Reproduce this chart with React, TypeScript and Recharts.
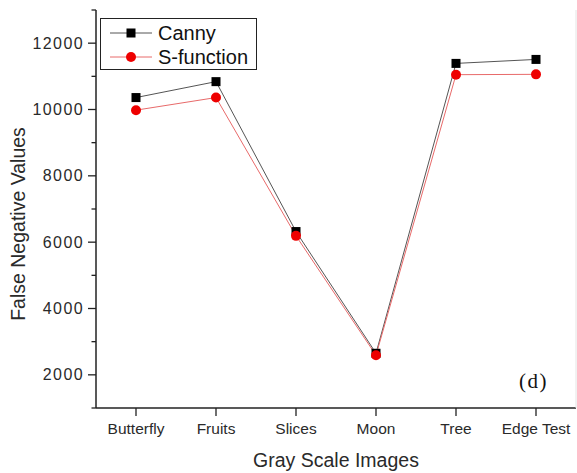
import React from 'react';
import { LineChart, Line, XAxis, YAxis, Legend, Label } from 'recharts';

// values
const images = ['Butterfly', 'Fruits', 'Slices', 'Moon', 'Tree', 'Edge Test'];
const canny = [10360, 10840, 6320, 2650, 11390, 11510];
const sFunction = [9980, 10360, 6190, 2590, 11050, 11060];

const yTicks = [1000, 2000, 3000, 4000, 5000, 6000, 7000, 8000, 9000, 10000, 11000, 12000, 13000];
const yLabels = [2000, 4000, 6000, 8000, 10000, 12000];
const bandEdges = [0, 1, 2, 3, 4, 5, 6];

const data = images.map((name, i) => ({
    name,
    canny: canny[i],
    sFunction: sFunction[i],
}));

const FONT = '"Liberation Sans", Arial, sans-serif';
const AXIS = '#222';
const TEXT = '#2a2a2a';

const YTick = (props: any) => {
    const { x, y, payload } = props;
    const major = yLabels.includes(payload.value);
    return (
        <g>
            <line x1={x - (major ? 8 : 4.5)} x2={x} y1={y} y2={y} stroke={AXIS} strokeWidth={1.3} />
            {major && (
                <text
                    x={x - 12}
                    y={y}
                    dy={5.5}
                    textAnchor="end"
                    fontSize={16}
                    letterSpacing={1.4}
                    fill={TEXT}
                    fontFamily={FONT}
                >
                    {payload.value}
                </text>
            )}
        </g>
    );
};

const YTitle = (props: any) => {
    const { viewBox } = props;
    const cx = viewBox.x + 18;
    const cy = viewBox.y + viewBox.height / 2 + 15;
    return (
        <text
            x={cx}
            y={cy}
            transform={'rotate(-90 ' + cx + ' ' + cy + ')'}
            textAnchor="middle"
            dominantBaseline="central"
            fontSize={19.5}
            fill={TEXT}
            fontFamily={FONT}
        >
            False Negative Values
        </text>
    );
};

const SquareDot = (props: any) => {
    const { cx, cy, index } = props;
    return <rect key={'sq-' + index} x={cx - 4.5} y={cy - 4.5} width={9} height={9} fill="#000" />;
};

const LegendBox = (props: any) => {
    const { payload } = props;
    return (
        <div
            style={{
                border: '1.3px solid #222',
                width: 157,
                height: 52,
                boxSizing: 'border-box',
                background: '#fff',
                paddingTop: 2,
            }}
        >
            {(payload ?? []).map((entry: any) => (
                <div key={entry.value} style={{ display: 'flex', alignItems: 'center', height: 24 }}>
                    <svg width={57} height={20} style={{ display: 'block' }}>
                        <line x1={9} x2={51} y1={10} y2={10} stroke={entry.color} strokeWidth={1} />
                        {entry.dataKey === 'canny' ? (
                            <rect x={25.5} y={5.5} width={9} height={9} fill="#000" />
                        ) : (
                            <circle cx={30} cy={10} r={5} fill="#ee0000" />
                        )}
                    </svg>
                    <span style={{ fontFamily: FONT, fontSize: 20, color: '#111', lineHeight: '20px' }}>
                        {entry.value}
                    </span>
                </div>
            ))}
        </div>
    );
};

export default function App() {
    return (
        <div style={{ position: 'fixed', left: 0, top: 0, width: 577, height: 473, background: '#fff' }}>
            <LineChart width={577} height={473} data={data} margin={{ top: 10, right: 0, bottom: 0, left: 0 }}>
                <XAxis
                    xAxisId="minor"
                    type="number"
                    domain={[0, 6]}
                    ticks={bandEdges}
                    height={0}
                    tick={false}
                    tickSize={4.5}
                    axisLine={false}
                    tickLine={{ stroke: AXIS, strokeWidth: 1.3 }}
                    interval={0}
                />
                <XAxis
                    dataKey="name"
                    height={65}
                    padding={{ left: 40, right: 40 }}
                    tickSize={8}
                    tickMargin={7}
                    interval={0}
                    axisLine={{ stroke: AXIS, strokeWidth: 1.5 }}
                    tickLine={{ stroke: AXIS, strokeWidth: 1.3 }}
                    tick={{ fontSize: 15.5, fill: TEXT, fontFamily: FONT }}
                >
                    <Label
                        value="Gray Scale Images"
                        position="insideBottom"
                        offset={6}
                        style={{ fontSize: 19.5, fill: TEXT, fontFamily: FONT }}
                    />
                </XAxis>
                <XAxis
                    xAxisId="top"
                    dataKey="name"
                    orientation="top"
                    height={0}
                    tick={false}
                    tickLine={false}
                    axisLine={{ stroke: '#aaa', strokeWidth: 1.3 }}
                />
                <YAxis
                    domain={[1000, 13000]}
                    ticks={yTicks}
                    interval={0}
                    width={96}
                    tickSize={0}
                    tickMargin={0}
                    tickLine={false}
                    tick={<YTick />}
                    axisLine={{ stroke: AXIS, strokeWidth: 1.5 }}
                    label={<YTitle />}
                />
                <YAxis
                    yAxisId="right"
                    orientation="right"
                    width={1}
                    tick={false}
                    tickLine={false}
                    axisLine={{ stroke: '#e4e4e4', strokeWidth: 1 }}
                />
                <Legend
                    layout="horizontal"
                    verticalAlign="middle"
                    align="center"
                    content={<LegendBox />}
                    wrapperStyle={{ position: 'absolute', left: 100, top: 18, width: 157, height: 52 }}
                />
                <Line
                    dataKey="canny"
                    name="Canny"
                    stroke="#555"
                    strokeWidth={1}
                    dot={<SquareDot />}
                    activeDot={false}
                    isAnimationActive={false}
                />
                <Line
                    dataKey="sFunction"
                    name="S-function"
                    stroke="#e86a6a"
                    strokeWidth={1}
                    dot={{ r: 5, fill: '#ee0000', stroke: 'none' }}
                    activeDot={false}
                    isAnimationActive={false}
                />
            </LineChart>
            <div
                style={{
                    position: 'absolute',
                    left: 519,
                    top: 369,
                    fontFamily: '"Liberation Serif", "Times New Roman", serif',
                    fontSize: 21,
                    letterSpacing: 1.5,
                    color: '#111',
                }}
            >
                (d)
            </div>
        </div>
    );
}
